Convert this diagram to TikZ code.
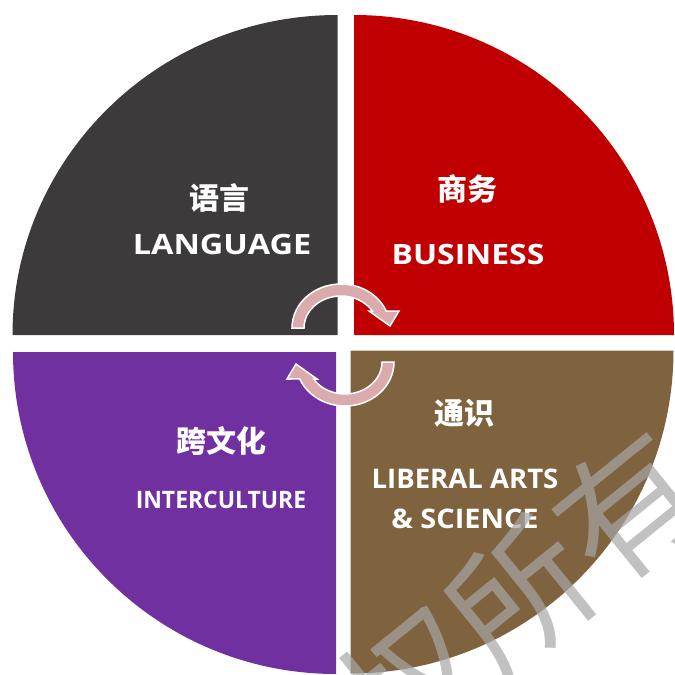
\documentclass[tikz,border=0pt]{standalone}
\usepackage{fontspec}
\newfontfamily\latf{Open Sans}
\newfontfamily\cjkf{Noto Sans CJK SC}
\definecolor{qdark}{RGB}{60,58,59}
\definecolor{qred}{RGB}{192,0,0}
\definecolor{qpurple}{RGB}{112,48,160}
\definecolor{qbrown}{RGB}{127,99,63}
\definecolor{arrowpink}{RGB}{218,170,172}
\definecolor{wmgray}{RGB}{166,166,166}
\newcommand\cyclearrowpath{(-49,0) arc[start angle=180,end angle=337.3,x radius=49,y radius=44] -- (58,-17) -- (49,-2) -- (28,-17) -- (327.9:37 and 32) arc[start angle=327.9,end angle=180,x radius=37,y radius=32] -- cycle}
\begin{document}
\begin{tikzpicture}[x=1pt,y=-1pt,
  cjklabel/.style={text=white,font=\cjkf\bfseries\fontsize{30}{30}\selectfont,inner sep=0pt,anchor=center},
  latlabel/.style={text=white,font=\latf\bfseries\fontsize{28}{28}\selectfont,inner sep=0pt,anchor=base},
  latsmall/.style={latlabel,font=\latf\bfseries\fontsize{24}{24}\selectfont},
  latmid/.style={latlabel,font=\latf\bfseries\fontsize{27}{27}\selectfont},
  cyclearrow/.style={fill=arrowpink,draw=white,line width=1.5pt,line join=miter},
  watermark/.style={text=wmgray,text opacity=0.7,inner sep=0pt,font=\cjkf\fontsize{140}{140}\selectfont}]
\useasboundingbox (0,0) rectangle (675,675);
\clip (0,0) rectangle (675,675);
% quadrants
\fill[qdark] (337.5,335) -- ++(-325,0) arc[start angle=180,end angle=270,x radius=325,y radius=320] -- cycle;
\fill[qred] (354,335) -- ++(0,-320) arc[start angle=270,end angle=360,x radius=320,y radius=320] -- cycle;
\fill[qbrown] (350.5,350.5) -- ++(323,0) arc[start angle=0,end angle=90,x radius=323,y radius=323] -- cycle;
\fill[qpurple] (336,352) -- ++(0,322) arc[start angle=90,end angle=180,x radius=323,y radius=322] -- cycle;
% circular arrows
\begin{scope}[shift={(341,328)}]
  \filldraw[cyclearrow] \cyclearrowpath;
\end{scope}
\begin{scope}[rotate around={180:(343,345)},shift={(341,328)}]
  \filldraw[cyclearrow] \cyclearrowpath;
\end{scope}
% labels
\node[cjklabel] (zh1) at (219,198) {语言};
\node[latlabel] (en1) at (222,254) {\scalebox{1.16}[1]{LANGUAGE}};
\node[cjklabel] (zh2) at (467,189) {商务};
\node[latlabel] (en2) at (468,264) {\scalebox{1.14}[1]{BUSINESS}};
\node[cjklabel] (zh3) at (221,441) {跨文化};
\node[latsmall] (en3) at (221,508) {\scalebox{0.955}[1]{INTERCULTURE}};
\node[cjklabel] (zh4) at (464,413) {通识};
\node[latmid] (en4a) at (465,488) {\scalebox{1.02}[1]{LIBERAL ARTS}};
\node[latmid] (en4b) at (465,528) {\scalebox{1.07}[1]{\& SCIENCE}};
% watermark
\node[watermark,rotate=39] (wm) at (465.6,639) {版权所有};
\end{tikzpicture}
\end{document}
